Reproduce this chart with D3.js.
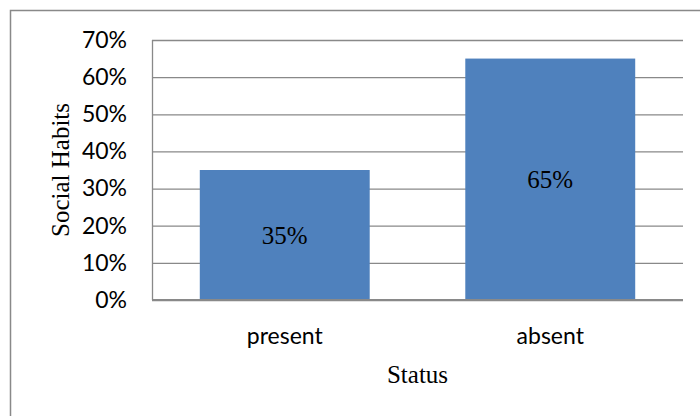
<!DOCTYPE html>
<html>
<head>
<meta charset="utf-8">
<script src="https://cdn.jsdelivr.net/npm/d3@7"></script>
<style>
  html, body { margin: 0; padding: 0; background: #fff; }
  svg { display: block; }
</style>
</head>
<body>
<svg id="chart" width="700" height="416"></svg>
<script>
// Share of respondents by social-habit status
const categories = ["present", "absent"];
const values = [35, 65];
const tickValues = [0, 10, 20, 30, 40, 50, 60, 70];
const yTitle = "Social Habits";
const xTitle = "Status";

const svg = d3.select("#chart");
const W = 700, H = 416;
const plot = { left: 152, right: 683, top: 40, bottom: 300 };
const grey = "#898989";
const barColor = "#4F81BD";
const sans = "Lato, 'Open Sans', sans-serif";
const serif = "'Liberation Serif', 'Times New Roman', serif";

svg.append("rect").attr("width", W).attr("height", H).attr("fill", "#fff");

// outer frame (top and left edges visible)
svg.append("path")
  .attr("d", `M10.5,${H} V10.5 H${W}`)
  .attr("fill", "none").attr("stroke", grey).attr("stroke-width", 1.5);

const x = d3.scaleBand()
  .domain(categories)
  .range([plot.left, plot.right])
  .paddingInner(0.36)
  .paddingOuter(0.18);

const y = d3.scaleLinear()
  .domain([0, 70])
  .range([plot.bottom, plot.top]);

// gridlines and y tick labels
const yAxis = d3.axisLeft(y)
  .tickValues(tickValues)
  .tickSize(-(plot.right - plot.left))
  .tickPadding(25)
  .tickFormat(d => d + "%");

const gy = svg.append("g")
  .attr("transform", `translate(${plot.left},0)`)
  .call(yAxis);
gy.select(".domain").remove();
gy.selectAll(".tick line").attr("stroke", grey).attr("stroke-width", 1.3);
gy.selectAll(".tick text")
  .attr("fill", "#000")
  .style("font-family", sans)
  .style("font-size", "23px");

// left axis line
svg.append("line")
  .attr("x1", plot.left + 0.5).attr("x2", plot.left + 0.5)
  .attr("y1", plot.top).attr("y2", plot.bottom)
  .attr("stroke", grey).attr("stroke-width", 1.3);

// bars
svg.append("g").selectAll("rect")
  .data(categories)
  .join("rect")
  .attr("x", d => x(d))
  .attr("width", x.bandwidth())
  .attr("y", (d, i) => y(values[i]))
  .attr("height", (d, i) => y(0) - y(values[i]))
  .attr("fill", barColor);

// baseline
svg.append("line")
  .attr("x1", plot.left).attr("x2", plot.right)
  .attr("y1", plot.bottom).attr("y2", plot.bottom)
  .attr("stroke", grey).attr("stroke-width", 2);

// value labels centred in the bars
svg.append("g").selectAll("text")
  .data(categories)
  .join("text")
  .attr("x", d => x(d) + x.bandwidth() / 2)
  .attr("y", (d, i) => (y(values[i]) + y(0)) / 2)
  .attr("text-anchor", "middle")
  .attr("dominant-baseline", "central")
  .style("font-family", serif)
  .style("font-size", "25px")
  .text((d, i) => values[i] + "%");

// category labels
svg.append("g").selectAll("text")
  .data(categories)
  .join("text")
  .attr("x", d => x(d) + x.bandwidth() / 2)
  .attr("y", 335)
  .attr("text-anchor", "middle")
  .attr("dominant-baseline", "central")
  .style("font-family", sans)
  .style("font-size", "23px")
  .text(d => d);

// axis titles
svg.append("text")
  .attr("x", (plot.left + plot.right) / 2)
  .attr("y", 374)
  .attr("text-anchor", "middle")
  .attr("dominant-baseline", "central")
  .style("font-family", serif)
  .style("font-size", "25px")
  .text(xTitle);

svg.append("text")
  .attr("transform", `translate(60,${(plot.top + plot.bottom) / 2}) rotate(-90)`)
  .attr("text-anchor", "middle")
  .attr("dominant-baseline", "central")
  .style("font-family", serif)
  .style("font-size", "25px")
  .text(yTitle);
</script>
</body>
</html>
